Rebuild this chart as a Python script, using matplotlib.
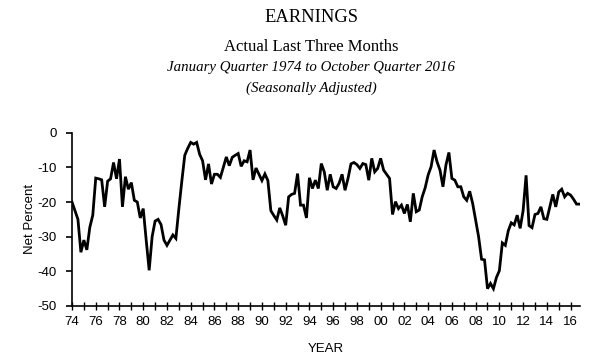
import matplotlib
matplotlib.use('Agg')
import matplotlib.pyplot as plt
from matplotlib.ticker import FixedLocator
import numpy as np

# quarterly values, January quarter 1974 .. October quarter 2016 (net percent)
start_year = 1974
earnings = [
    -20.0, -22.5, -25.0, -34.5,   # 1974
    -31.0, -33.8, -27.3, -23.8,   # 1975
    -13.1, -13.3, -13.6, -21.4,   # 1976
    -14.0, -13.3, -8.6, -13.3,    # 1977
    -7.6, -21.4, -12.7, -16.3,    # 1978
    -14.4, -19.5, -20.0, -24.6,   # 1979
    -21.9, -31.0, -39.7, -30.0,   # 1980
    -25.5, -25.0, -26.5, -31.0,   # 1981
    -32.5, -31.0, -29.5, -30.5,   # 1982
    -22.0, -14.0, -6.5, -4.5,     # 1983
    -2.8, -3.3, -2.8, -6.2,       # 1984
    -8.1, -13.6, -9.0, -14.8,     # 1985
    -12.0, -12.0, -12.9, -10.0,   # 1986
    -7.0, -9.5, -7.1, -6.5,       # 1987
    -6.0, -9.7, -8.1, -8.4,       # 1988
    -5.0, -13.6, -10.2, -12.0,    # 1989
    -13.8, -11.9, -13.8, -22.5,   # 1990
    -23.9, -25.2, -21.7, -24.0,   # 1991
    -26.7, -18.5, -17.8, -17.5,   # 1992
    -11.8, -20.9, -20.9, -24.6,   # 1993
    -13.0, -16.1, -13.7, -16.1,   # 1994
    -8.9, -11.3, -16.6, -12.0,    # 1995
    -15.6, -16.1, -14.6, -12.0,   # 1996
    -16.6, -13.2, -9.0, -8.6,     # 1997
    -9.2, -10.3, -8.9, -9.2,      # 1998
    -13.7, -7.4, -11.3, -10.3,    # 1999
    -7.4, -10.8, -12.0, -13.2,    # 2000
    -23.6, -19.9, -21.9, -20.9,   # 2001
    -23.3, -20.7, -25.7, -17.5,   # 2002
    -22.8, -22.3, -18.5, -15.9,   # 2003
    -12.2, -9.8, -5.0, -8.4,      # 2004
    -10.8, -15.6, -9.3, -5.7,     # 2005
    -13.2, -13.7, -15.6, -15.6,   # 2006
    -18.5, -19.5, -16.9, -20.4,   # 2007
    -25.2, -30.0, -36.5, -36.7,   # 2008
    -45.0, -43.5, -45.0, -41.8,   # 2009
    -39.8, -31.8, -32.5, -28.3,   # 2010
    -26.0, -26.6, -23.8, -27.6,   # 2011
    -22.5, -12.3, -26.8, -27.4,   # 2012
    -23.6, -23.3, -21.4, -24.8,   # 2013
    -25.0, -21.4, -17.8, -21.4,   # 2014
    -17.1, -16.3, -18.5, -17.5,   # 2015
    -18.0, -19.2, -20.6, -20.6,   # 2016
]
year_labels = ['74', '76', '78', '80', '82', '84', '86', '88', '90', '92', '94',
               '96', '98', '00', '02', '04', '06', '08', '10', '12', '14', '16']
y_ticks = [0, -10, -20, -30, -40, -50]

x = start_year + np.arange(len(earnings)) * 0.25

serif = ['Liberation Serif', 'DejaVu Serif']
plt.rcParams['font.family'] = ['Liberation Sans', 'DejaVu Sans']

fig = plt.figure(figsize=(5.96, 3.58), dpi=100)
ax = fig.add_axes([72 / 596, 1 - 306 / 358, (579.5 - 72) / 596, (306 - 132.7) / 358])

ax.plot(x, earnings, color='black', lw=2.0, solid_joinstyle='miter')

ax.set_xlim(1974, x[-1])
ax.set_ylim(-50, 0)
ax.set_yticks(y_ticks)
ax.set_yticklabels([str(v) for v in y_ticks])
ax.xaxis.set_major_locator(FixedLocator(np.arange(1974, 2017, 2)))
ax.set_xticklabels(year_labels)
ax.xaxis.set_minor_locator(FixedLocator(np.arange(1975, 2017, 2)))

for s in ['top', 'right']:
    ax.spines[s].set_visible(False)
for s in ['left', 'bottom']:
    ax.spines[s].set_linewidth(1.2)

ax.tick_params(axis='y', direction='out', length=4, width=1.2, labelsize=9.5, pad=7)
ax.tick_params(axis='x', which='both', direction='inout', length=6, width=1.0, labelsize=9.5, pad=4)

ax.set_ylabel('Net Percent', fontsize=9.5, labelpad=1)
ax.set_xlabel('YEAR', fontsize=9.5, labelpad=11)

cx = 311 / 596
fig.text(cx, 1 - 17 / 358, 'EARNINGS', ha='center', va='center', family=serif, fontsize=13.3)
fig.text(cx, 1 - 47 / 358, 'Actual Last Three Months', ha='center', va='center', family=serif, fontsize=12)
fig.text(cx, 1 - 68 / 358, 'January Quarter 1974 to October Quarter 2016', ha='center', va='center',
         family=serif, style='italic', fontsize=10.7)
fig.text(cx, 1 - 88 / 358, '(Seasonally Adjusted)', ha='center', va='center', family=serif,
         style='italic', fontsize=10.8)

fig.savefig('out.png', dpi=100)
